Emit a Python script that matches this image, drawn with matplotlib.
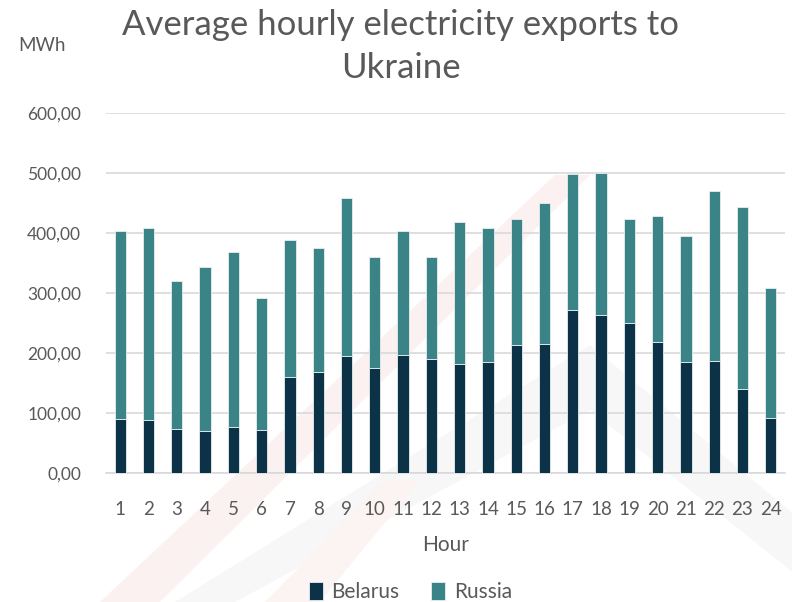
import matplotlib

matplotlib.use("Agg")
import matplotlib.pyplot as plt
import numpy as np
from matplotlib.patches import Polygon

hours = [str(h) for h in range(1, 25)]
belarus = [90, 89, 73, 70, 77, 72, 161, 168, 195, 176, 197, 190,
           182, 185, 214, 216, 272, 263, 251, 218, 186, 187, 141, 92]
total = [403, 409, 321, 344, 369, 292, 389, 376, 459, 361, 403, 360,
         419, 408, 423, 451, 498, 500, 424, 429, 395, 471, 443, 309]
russia = [t - b for t, b in zip(total, belarus)]

DARK = "#0b3247"
TEAL = "#3a8386"
GREY = "#595959"

plt.rcParams["font.family"] = ["Lato", "DejaVu Sans"]

W, H = 792, 602
fig = plt.figure(figsize=(W / 100, H / 100), dpi=100)


def px(pts):
    # pixel coords (origin top-left) -> figure fraction
    return [(a / W, 1 - b / H) for a, b in pts]


# very faint watermark stripes behind the chart
for pts, col in [
    ([(100, 602), (160, 602), (590, 175), (555, 175)], "#fcf1f1"),
    ([(175, 602), (235, 602), (590, 410), (590, 345)], "#f7f7f7"),
    ([(590, 345), (590, 410), (830, 602), (900, 602)], "#f7f7f7"),
    ([(265, 602), (320, 602), (420, 480), (385, 480)], "#fcf3f3"),
]:
    fig.add_artist(Polygon(px(pts), closed=True, transform=fig.transFigure,
                           facecolor=col, edgecolor="none", zorder=0))

ax = fig.add_axes([0.134, 0.214, 0.857, 0.598])
ax.patch.set_alpha(0)
x = np.arange(len(hours))
ax.bar(x, belarus, width=0.4, color=DARK, edgecolor="#e8eef0", linewidth=0.6,
       label="Belarus", zorder=3)
ax.bar(x, russia, width=0.4, bottom=belarus, color=TEAL, edgecolor="#e8eef0",
       linewidth=0.6, label="Russia", zorder=3)

ax.set_ylim(0, 600)
ax.set_xlim(-0.5, 23.5)
ax.set_yticks(range(0, 601, 100))
ax.set_yticklabels([f"{v},00" for v in range(0, 601, 100)])
ax.set_xticks(x)
ax.set_xticklabels(hours)
ax.yaxis.grid(True, color="#d9d9d9", linewidth=1.2, zorder=0)
ax.set_axisbelow(True)
for s in ["top", "right", "left"]:
    ax.spines[s].set_visible(False)
ax.spines["bottom"].set_color("#d9d9d9")
ax.spines["bottom"].set_linewidth(1.2)
ax.tick_params(axis="both", length=0, colors=GREY, labelsize=12.5)
ax.tick_params(axis="x", labelsize=13.5, pad=20)
ax.tick_params(axis="y", pad=18)

ax.set_xlabel("Hour", color=GREY, fontsize=15, labelpad=12)
fig.text(0.023, 0.925, "MWh", color=GREY, fontsize=13.5, va="center")
fig.text(0.506, 0.958, "Average hourly electricity exports to",
         ha="center", va="center", color=GREY, fontsize=25)
fig.text(0.506, 0.887, "Ukraine",
         ha="center", va="center", color=GREY, fontsize=25)

ax.legend(loc="center", bbox_to_anchor=(0.448, -0.33), ncol=2,
          frameon=False, fontsize=15, labelcolor=GREY, handlelength=0.7,
          handleheight=1.0, handletextpad=0.4, columnspacing=1.5)

fig.savefig("out.png", dpi=100)
